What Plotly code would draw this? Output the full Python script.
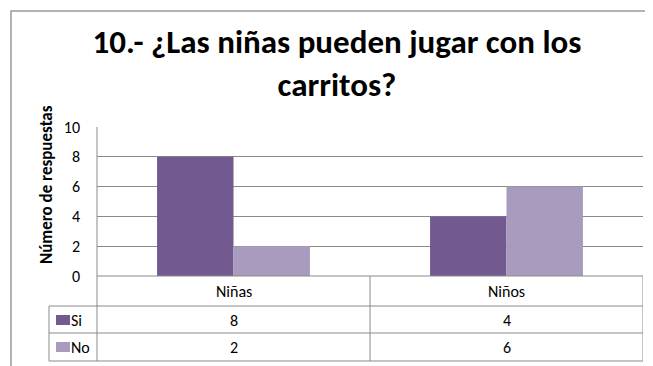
import plotly.graph_objects as go

categories = ["Niñas", "Niños"]
series_names = ["Si", "No"]
si_values = [8, 4]
no_values = [2, 6]
series_values = [si_values, no_values]
series_colors = ["#72598F", "#A99BBD"]
y_ticks = [0, 2, 4, 6, 8, 10]

title_text = "10.- ¿Las niñas pueden jugar con los<br>carritos?"
y_title = "Número de respuestas"

FONT = "Carlito, Calibri, Lato, sans-serif"

W, H = 653, 366
OFF = 8  # page body margin offset
# plot area in window pixels
L, R, T, B = 97, 643, 127, 276
PW, PH = R - L, B - T


def px_x(px):
    return (px - L) / PW


def px_y(py):
    return (B - py) / PH


fig = go.Figure()
for name, vals, col in zip(series_names, series_values, series_colors):
    fig.add_trace(go.Bar(x=categories, y=vals, name=name, marker=dict(color=col, line=dict(width=0)),
                         showlegend=False))

grid_col = "#8A8A8A"
line_col = "#8A8A8A"

shapes = []
# outer chart border
shapes.append(dict(type="rect", xref="paper", yref="paper", x0=px_x(11), x1=px_x(720),
                   y0=px_y(420), y1=px_y(11), line=dict(color="#9A9A9A", width=1.5)))

# table row boundaries
row_lines = [276, 306, 333, 361]
for i, py in enumerate(row_lines):
    x0 = px_x(97) if i == 0 else px_x(49)
    shapes.append(dict(type="line", xref="paper", yref="paper", x0=x0, x1=1, y0=px_y(py), y1=px_y(py),
                       line=dict(color=line_col, width=1)))
shapes.append(dict(type="line", xref="paper", yref="paper", x0=px_x(49), x1=px_x(49),
                   y0=px_y(306), y1=px_y(361), line=dict(color=line_col, width=1)))
shapes.append(dict(type="line", xref="paper", yref="paper", x0=0, x1=0,
                   y0=1, y1=px_y(361), line=dict(color=line_col, width=1)))
n = len(categories)
for k in range(1, n + 1):
    xv = k - 0.5
    shapes.append(dict(type="line", xref="x", yref="paper", x0=xv, x1=xv,
                       y0=px_y(276), y1=px_y(361), line=dict(color=line_col, width=1)))

TFS = 16
annotations = []
for c in categories:
    annotations.append(dict(x=c, y=px_y(291), xref="x", yref="paper", text=c, showarrow=False,
                            xanchor="center", yanchor="middle",
                            font=dict(family=FONT, size=TFS, color="#000000")))
row_centers = [320, 347]
for name, vals, col, rc in zip(series_names, series_values, series_colors, row_centers):
    for c, v in zip(categories, vals):
        annotations.append(dict(x=c, y=px_y(rc), xref="x", yref="paper", text=str(v), showarrow=False,
                                xanchor="center", yanchor="middle",
                                font=dict(family=FONT, size=TFS, color="#000000")))
    shapes.append(dict(type="rect", xref="paper", yref="paper", x0=px_x(56), x1=px_x(70),
                       y0=px_y(rc + 5), y1=px_y(rc - 5), fillcolor=col, line=dict(width=0)))
    annotations.append(dict(x=px_x(69), y=px_y(rc), xref="paper", yref="paper", text=name,
                            showarrow=False, xanchor="left", yanchor="middle",
                            font=dict(family=FONT, size=TFS, color="#000000")))

annotations.append(dict(x=px_x(46), y=px_y(185), xref="paper", yref="paper", text="<b>" + y_title + "</b>",
                        textangle=-90, showarrow=False, xanchor="center", yanchor="middle",
                        font=dict(family=FONT, size=17, color="#000000")))

fig.update_layout(
    width=W, height=H,
    margin=dict(l=L - OFF, r=W - (R - OFF), t=T - OFF, b=H - (B - OFF), pad=0),
    paper_bgcolor="white", plot_bgcolor="white",
    barmode="group", bargap=0.44, bargroupgap=0,
    title=dict(text="<b>" + title_text + "</b>", x=(337 - OFF) / W, xref="container", xanchor="center",
               y=1 - (53 - OFF) / H, yref="container", yanchor="top",
               font=dict(family=FONT, size=33, color="#000000")),
    font=dict(family=FONT, size=14, color="#000000"),
    shapes=shapes, annotations=annotations,
)
fig.update_xaxes(showticklabels=False, showgrid=False, zeroline=False, showline=False,
                 range=[-0.5, n - 0.5])
fig.update_yaxes(range=[0, 10], tickvals=y_ticks, showgrid=True, gridcolor=grid_col, gridwidth=1,
                 zeroline=False, showline=False, ticks="", ticklabelstandoff=16,
                 tickfont=dict(family=FONT, size=16, color="#000000"))

fig.write_html("out.html")
